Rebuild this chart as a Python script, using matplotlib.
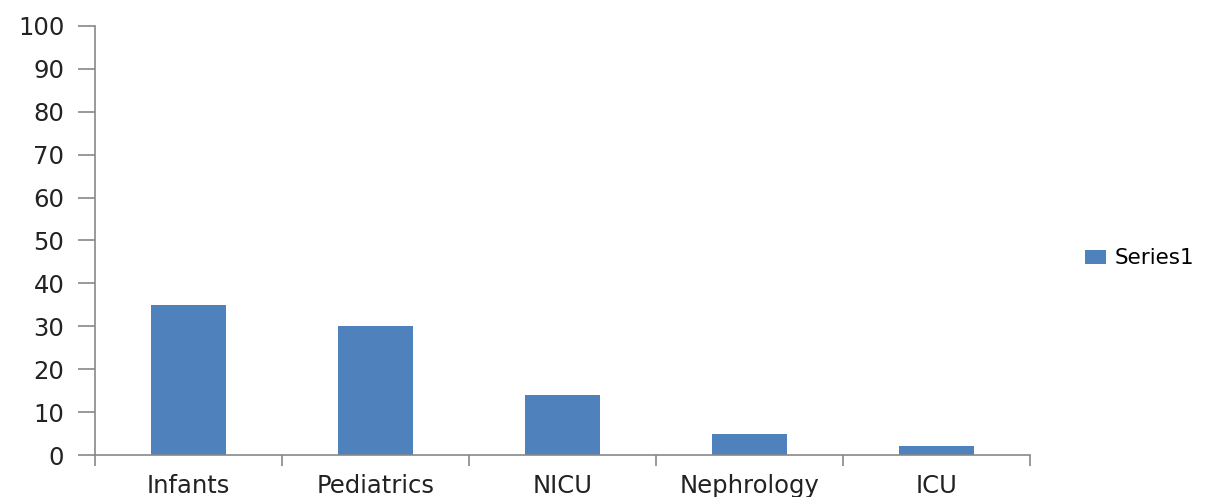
import numpy as np
import matplotlib.pyplot as plt

# Data
categories = ['Infants', 'Pediatrics', 'NICU', 'Nephrology', 'ICU']
values = [35, 30, 14, 5, 2]
y_ticks = [0, 10, 20, 30, 40, 50, 60, 70, 80, 90, 100]

plt.rcParams['font.family'] = ['DejaVu Sans']

fig = plt.figure(figsize=(12.16, 4.97), dpi=100)
ax = fig.add_axes([0.078, 0.0845, 0.769, 0.8635])

x = np.arange(len(categories))
ax.bar(x, values, width=0.4, color='#4F81BD', label='Series1', zorder=2)

ax.set_xlim(-0.5, len(categories) - 0.5)
ax.set_ylim(0, 100)
ax.set_yticks(y_ticks)
ax.set_xticks(x)
ax.set_xticklabels(categories)
ax.set_xticks(np.arange(len(categories) + 1) - 0.5, minor=True)

ax.tick_params(axis='x', which='major', length=0, pad=13.5, labelsize=17.5, colors='#222222')
ax.tick_params(axis='x', which='minor', length=8, color='#888888', width=1.2)
ax.tick_params(axis='y', length=12, color='#888888', width=1.2, pad=10, labelsize=17.5, labelcolor='#222222')

for s in ['top', 'right']:
    ax.spines[s].set_visible(False)
for s in ['left', 'bottom']:
    ax.spines[s].set_color('#888888')
    ax.spines[s].set_linewidth(1.2)

fig.legend(loc='center left', bbox_to_anchor=(0.876, 0.48), frameon=False,
           fontsize=15.5, handlelength=1.0, handleheight=0.6, handletextpad=0.4)

fig.savefig('out.png', dpi=100)
